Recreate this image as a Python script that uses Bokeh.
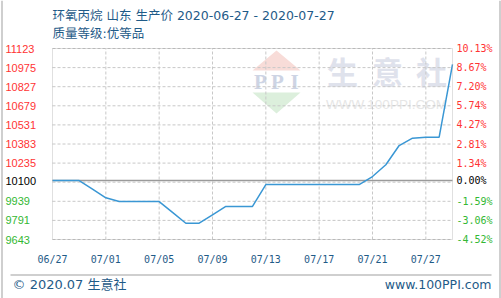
from bokeh.plotting import figure
from bokeh.models import (Label, LabelSet, ColumnDataSource, BoxAnnotation, PolyAnnotation, Range1d)
from bokeh.core.properties import value
from bokeh.embed import file_html
from bokeh.resources import INLINE

# ---------------- data ----------------
tick_index = [0, 4, 8, 12, 16, 20, 24, 28]
tick_dates = ["06/27", "07/01", "07/05", "07/09", "07/13", "07/17", "07/21", "07/27"]

prices = [10100, 10100, 10100, 10033, 9966, 9937, 9937, 9937, 9937, 9853,
          9769, 9769, 9834, 9899, 9899, 9899, 10069, 10069, 10069, 10069,
          10069, 10069, 10069, 10069, 10131, 10222, 10371, 10428, 10436, 10436,
          11000]
base_price = 10100

left_values = [11123, 10975, 10827, 10679, 10531, 10383, 10235, 10100, 9939, 9791, 9643]
left_labels = ["11123", "10975", "10827", "10679", "10531", "10383", "10235",
               "10100", "9939", "9791", "9643"]
right_labels = ["10.13%", "8.67%", "7.20%", "5.74%", "4.27%", "2.81%", "1.34%",
                "0.00%", "-1.59%", "-3.06%", "-4.52%"]
grid_values = [11123, 10975, 10827, 10679, 10531, 10383, 10235, 10087, 9939, 9791, 9643]

title_line1 = "环氧丙烷 山东 生产价 2020-06-27 - 2020-07-27"
title_line2 = "质量等级:优等品"
footer_left = "© 2020.07 生意社"
footer_right = "www.100PPI.com"

# ---------------- layout ----------------
W, H = 501, 298
FL, FR, FT, FB = 52, 452, 48, 239          # plot-area box inside the canvas
x0, x1 = 0, len(prices) - 1
y0, y1 = min(left_values), max(left_values)
kx = (x1 - x0) / (FR - FL)
ky = (y1 - y0) / (FB - FT)


def sx(cx):
    return cx


def sy(cy):
    return H - cy


BLUE_TXT = "#1f5b88"
RED = "#ff3333"
GREEN = "#33b833"
GRID = "#c8c8c8"

p = figure(width=W, height=H,
           x_range=Range1d(x0 - FL * kx, x1 + (W - FR) * kx),
           y_range=Range1d(y0 - (H - FB) * ky, y1 + FT * ky),
           x_axis_location=None, y_axis_location=None,
           output_backend="svg", toolbar_location=None, min_border=0)
p.background_fill_color = "white"
p.border_fill_color = "white"
p.outline_line_color = None
p.grid.visible = False

# watermark
for ch, cx in zip("生意社", [342, 387, 431]):
    p.add_layout(Label(x=sx(cx), y=sy(70), x_units="screen", y_units="screen", text=ch,
                       text_align="center", text_baseline="middle", text_font="Noto Sans CJK SC",
                       text_font_size="31px", text_font_style="bold", text_color="#dfe2ec",
                       level="image"))
p.add_layout(Label(x=sx(386), y=sy(104), x_units="screen", y_units="screen", text="WWW.100PPI.COM",
                   text_align="center", text_baseline="middle", text_font="Liberation Sans",
                   text_font_size="13.5px", text_color="#e6e6e6", level="image"))
p.add_layout(PolyAnnotation(xs=[sx(252), sx(300), sx(276)], ys=[sy(70), sy(70), sy(50)],
                            xs_units="screen", ys_units="screen", fill_color="#f8dcd8",
                            fill_alpha=1, line_color=None, level="image"))
p.add_layout(PolyAnnotation(xs=[sx(252), sx(300), sx(276)], ys=[sy(92), sy(92), sy(113)],
                            xs_units="screen", ys_units="screen", fill_color="#dcefdc",
                            fill_alpha=1, line_color=None, level="image"))
for ch, cx in zip("PPI", [260, 277, 294]):
    p.add_layout(Label(x=sx(cx), y=sy(81), x_units="screen", y_units="screen", text=ch,
                       text_align="center", text_baseline="middle", text_font="Liberation Serif",
                       text_font_size="21px", text_font_style="bold", text_color="#cdd4e4",
                       level="image"))

# grid lines (from tick arrays)
p.segment(x0=x0, x1=x1, y0=grid_values, y1=grid_values, line_color=GRID, line_dash="3 2", line_width=1)
p.segment(x0=tick_index[1:], x1=tick_index[1:], y0=y0, y1=y1, line_color=GRID, line_dash="3 2",
          line_width=1)

# baseline and price line
p.segment(x0=[x0], x1=[x1], y0=[base_price], y1=[base_price], line_color="#9a9a9a", line_width=1.5)
p.line(x=list(range(len(prices))), y=prices, line_color="#3a97d4", line_width=1.5)

# plot-area frame
p.add_layout(BoxAnnotation(left=x0, right=x1, bottom=y0, top=y1, fill_alpha=0,
                           line_color="#999999", line_width=1))

# tick labels
colors = [RED if v > base_price else ("black" if v == base_price else GREEN) for v in left_values]
src = ColumnDataSource(dict(y=left_values, lt=left_labels, rt=right_labels, c=colors))
p.add_layout(LabelSet(x=sx(5), y="y", x_units="screen", text="lt", text_color="c", source=src,
                      text_align="left", text_baseline="middle", text_font=value("Liberation Sans"),
                      text_font_size="11px"))
p.add_layout(LabelSet(x=sx(456), y="y", x_units="screen", text="rt", text_color="c", source=src,
                      text_align="left", text_baseline="middle", text_font=value("DejaVu Sans Mono"),
                      text_font_size="10px"))
xsrc = ColumnDataSource(dict(x=tick_index, t=tick_dates))
p.add_layout(LabelSet(x="x", y=sy(259), y_units="screen", text="t", source=xsrc,
                      text_align="center", text_baseline="middle", text_font=value("DejaVu Sans Mono"),
                      text_font_size="10px", text_color=BLUE_TXT))

# titles and footer
txt_font = "DejaVu Sans, Noto Sans CJK SC"
p.add_layout(Label(x=sx(52), y=sy(15), x_units="screen", y_units="screen", text=title_line1,
                   text_align="left", text_baseline="middle", text_font=txt_font,
                   text_font_size="12.5px", text_color=BLUE_TXT))
p.add_layout(Label(x=sx(52), y=sy(33), x_units="screen", y_units="screen", text=title_line2,
                   text_align="left", text_baseline="middle", text_font=txt_font,
                   text_font_size="12.5px", text_color=BLUE_TXT))
p.add_layout(Label(x=sx(12), y=sy(284), x_units="screen", y_units="screen", text=footer_left,
                   text_align="left", text_baseline="middle", text_font=txt_font,
                   text_font_size="13px", text_color=BLUE_TXT))
p.add_layout(Label(x=sx(491), y=sy(284), x_units="screen", y_units="screen", text=footer_right,
                   text_align="right", text_baseline="middle", text_font=txt_font,
                   text_font_size="12.5px", text_color=BLUE_TXT))

# separator and side borders
p.add_layout(BoxAnnotation(left=sx(10), right=sx(491), top=sy(274), bottom=sy(275),
                           left_units="screen", right_units="screen", top_units="screen",
                           bottom_units="screen", fill_color="#a0a0a0", fill_alpha=1, line_color=None))
for bx in (1, 499):
    p.add_layout(BoxAnnotation(left=sx(bx), right=sx(bx + 1), top=sy(0), bottom=sy(298),
                               left_units="screen", right_units="screen", top_units="screen",
                               bottom_units="screen", fill_color="#a0a0a0", fill_alpha=1,
                               line_color=None))

open("out.html", "w").write(file_html(p, INLINE))
